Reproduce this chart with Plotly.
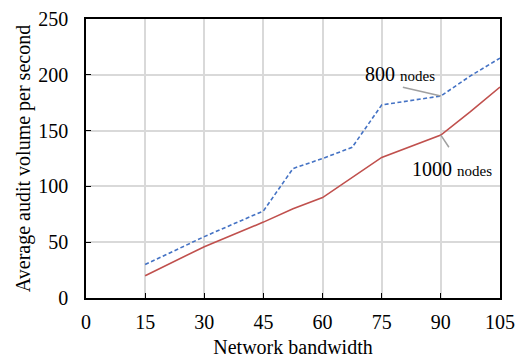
import plotly.graph_objects as go

bandwidth = [15, 30, 45, 52.5, 60, 67.5, 75, 90, 97.5, 105]
nodes_800 = [30, 55, 78, 116, 125, 135, 173, 181, 199, 215]
nodes_1000 = [20, 46, 68, 80, 90, 108, 126, 146, 167, 189]
x_ticks = [0, 15, 30, 45, 60, 75, 90, 105]
y_ticks = [0, 50, 100, 150, 200, 250]

FONT = "Liberation Serif, Times New Roman, serif"

fig = go.Figure()
fig.add_trace(go.Scatter(x=bandwidth, y=nodes_800, mode="lines", name="800 nodes",
                         line=dict(color="#4472c4", width=1.6, dash="4px,2.5px")))
fig.add_trace(go.Scatter(x=bandwidth, y=nodes_1000, mode="lines", name="1000 nodes",
                         line=dict(color="#c0504d", width=1.6)))

axis_common = dict(showgrid=True, gridcolor="#d9d9d9", gridwidth=1.5,
                   showline=True, linecolor="black", linewidth=1.5, mirror=True,
                   zeroline=False, automargin=False, ticks="inside", ticklen=5,
                   tickcolor="black", tickwidth=1.2,
                   tickfont=dict(family=FONT, size=20, color="black"))

fig.update_xaxes(range=[0, 105], tickvals=x_ticks, ticklabelstandoff=5,
                 title=dict(text="Network bandwidth", font=dict(family=FONT, size=20, color="black"),
                            standoff=8),
                 **axis_common)
fig.update_yaxes(range=[0, 250], tickvals=y_ticks, ticklabelstandoff=12,
                 title=dict(text="Average audit volume per second",
                            font=dict(family=FONT, size=20, color="black"), standoff=2),
                 **axis_common)

# labels
fig.add_annotation(x=90, y=181, text=" ", showarrow=True, arrowhead=0, arrowcolor="#a0a0a0",
                   arrowwidth=1.5, axref="x", ayref="y", ax=79.6, ay=189.5)
fig.add_annotation(x=79.6, y=201, text="800 <span style='font-size:15px'>nodes</span>",
                   showarrow=False, font=dict(family=FONT, size=20, color="black"))
fig.add_annotation(x=90, y=146, text=" ", showarrow=True, arrowhead=0, arrowcolor="#a0a0a0",
                   arrowwidth=1.5, axref="x", ayref="y", ax=92.8, ay=131)
fig.add_annotation(x=92.9, y=116, text="1000 <span style='font-size:15px'>nodes</span>",
                   showarrow=False, font=dict(family=FONT, size=20, color="black"))

fig.update_layout(width=517, height=358, margin=dict(l=86, r=17, t=19, b=60),
                  paper_bgcolor="white", plot_bgcolor="white", showlegend=False,
                  font=dict(family=FONT, color="black"))

fig.write_html("out.html", config={"displayModeBar": False},
               post_script="document.body.style.margin='0';")
